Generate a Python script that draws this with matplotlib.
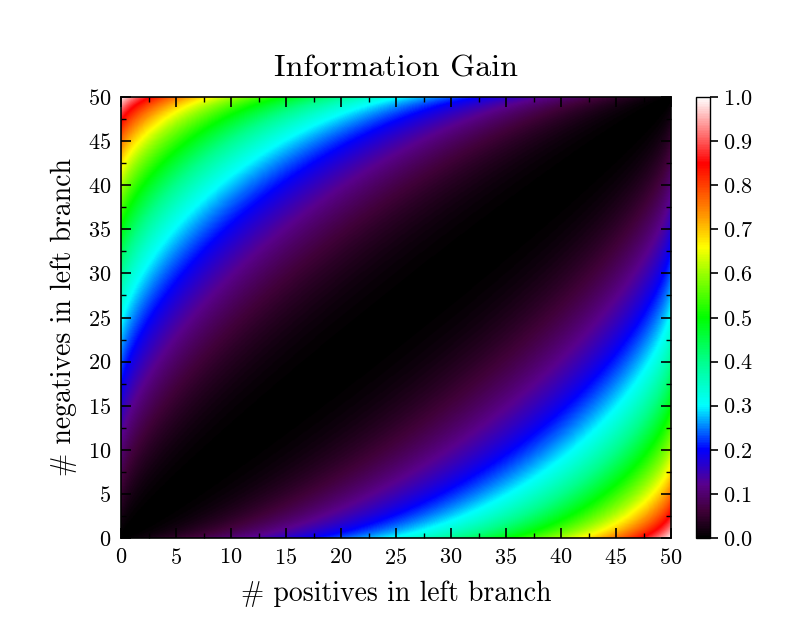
import numpy as np
import matplotlib
matplotlib.use("Agg")
import matplotlib.pyplot as plt
from matplotlib.colors import LinearSegmentedColormap

plt.rcParams["font.family"] = "serif"
plt.rcParams["font.serif"] = ["cmr10"]
plt.rcParams["mathtext.fontset"] = "cm"
plt.rcParams["axes.formatter.use_mathtext"] = True

# totals in the parent node
n_pos_total = 50
n_neg_total = 50
x_ticks = [0, 5, 10, 15, 20, 25, 30, 35, 40, 45, 50]
cbar_ticks = [0.0, 0.1, 0.2, 0.3, 0.4, 0.5, 0.6, 0.7, 0.8, 0.9, 1.0]

# colour stops
cmap_stops = [0.0, 0.06, 0.12, 0.2, 0.25, 0.3, 0.4, 0.5, 0.6, 0.66, 0.73, 0.85, 1.0]
cmap_colors = [(0, 0, 0), (0.25, 0, 0.22), (0.35, 0, 0.55), (0, 0, 1), (0, 0.5, 1),
               (0, 1, 1), (0, 1, 0.55), (0, 1, 0), (0.6, 1, 0), (1, 1, 0),
               (1, 0.6, 0), (1, 0, 0), (1, 1, 1)]
cmap = LinearSegmentedColormap.from_list("ig", list(zip(cmap_stops, cmap_colors)))


def entropy(p, n):
    tot = p + n
    with np.errstate(divide="ignore", invalid="ignore"):
        a = np.where(p > 0, p / tot * np.log2(p / tot), 0.0)
        b = np.where(n > 0, n / tot * np.log2(n / tot), 0.0)
    h = -(a + b)
    return np.nan_to_num(h)


p = np.linspace(0, n_pos_total, 501)
n = np.linspace(0, n_neg_total, 501)
P, N = np.meshgrid(p, n)
total = n_pos_total + n_neg_total
h_parent = entropy(np.array(n_pos_total, float), np.array(n_neg_total, float))
left = P + N
right = total - left
gain = h_parent - (left / total) * entropy(P, N) - (right / total) * entropy(n_pos_total - P, n_neg_total - N)

fig = plt.figure(figsize=(7.93, 6.35), dpi=100)
ax = fig.add_axes([121 / 793, 1 - 538 / 635, 550 / 793, 441 / 635])
cax = fig.add_axes([696 / 793, 1 - 538 / 635, 14 / 793, 441 / 635])

im = ax.imshow(gain, origin="lower", extent=[0, n_pos_total, 0, n_neg_total],
               cmap=cmap, vmin=0, vmax=1, aspect="auto", interpolation="bilinear")
ax.set_xticks(x_ticks)
ax.set_yticks(x_ticks)
ax.set_xticks(np.arange(0, 51, 2.5), minor=True)
ax.set_yticks(np.arange(0, 51, 2.5), minor=True)
ax.tick_params(which="both", direction="in", top=True, right=True, labelsize=16)
ax.tick_params(which="major", length=7, width=1.2, pad=7)
ax.tick_params(which="minor", length=3.5, width=1.0)
for s in ax.spines.values():
    s.set_linewidth(1.2)
ax.set_xlabel("# positives in left branch", fontsize=20, labelpad=9)
ax.set_ylabel("# negatives in left branch", fontsize=20, labelpad=8)
ax.set_title("Information Gain", fontsize=23, pad=15)

cb = fig.colorbar(im, cax=cax, ticks=cbar_ticks)
cb.ax.tick_params(labelsize=16, length=6, width=1.2)
cb.ax.minorticks_off()
cb.outline.set_linewidth(1.0)

fig.savefig("out.png", dpi=100)
